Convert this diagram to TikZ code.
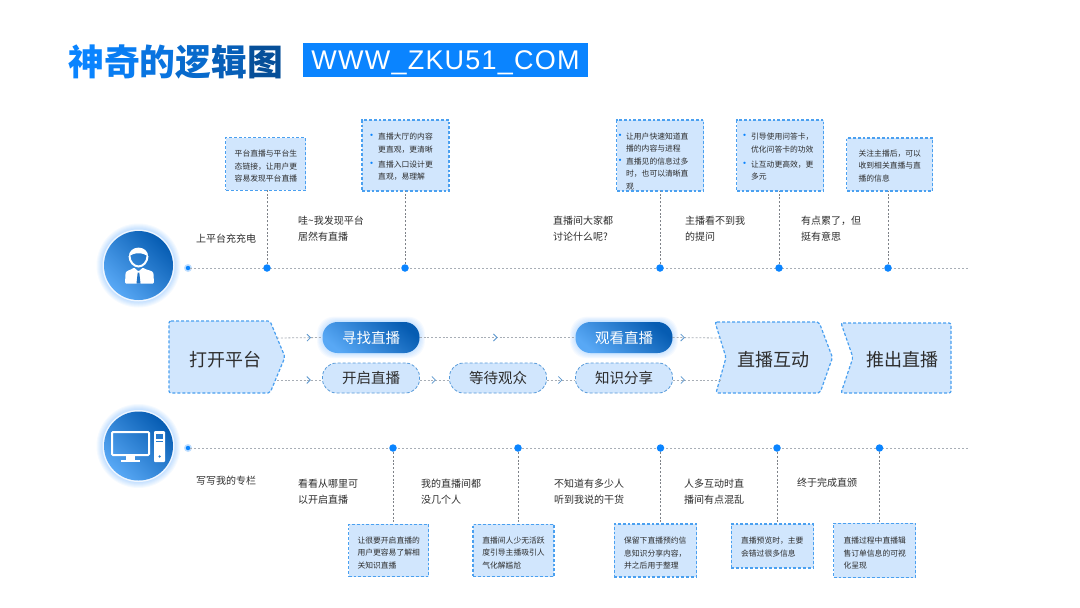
\documentclass[tikz,border=0pt]{standalone}
\usepackage{fontspec}
\setmainfont{Noto Sans CJK SC}
\newfontfamily\urlfont[LetterSpace=4.5]{Liberation Sans}
\usetikzlibrary{arrows.meta,decorations.markings}
\definecolor{tipfill}{RGB}{209,230,253}
\definecolor{tipedge}{RGB}{74,160,240}
\definecolor{keyblue}{RGB}{10,132,255}
\definecolor{ballhi}{RGB}{88,168,245}
\definecolor{balllo}{RGB}{6,92,178}
\definecolor{linegray}{RGB}{168,174,182}
\definecolor{txtgray}{RGB}{45,45,45}
\newcommand{\smallfont}{\fontsize{7.8}{12.5}\selectfont}
\newcommand{\tipmark}{\textcolor{keyblue}{\fontsize{11}{11}\selectfont •}}
\newcommand{\tipdot}{\makebox[8pt][l]{\hspace{-4pt}\tipmark}}
\newcommand{\tipdotnear}{\makebox[6pt][l]{\hspace{-5.5pt}\tipmark}}
\newcommand{\tipgap}{\hspace*{8pt}}
\newcommand{\tipdrop}[1]{\rule{0pt}{#1pt}}
\begin{document}
\begin{tikzpicture}[x=1pt, y=-1pt,
				tipbox/.style={draw=tipedge, fill=tipfill, dash pattern=on 2.8pt off 2pt, line width=1.1pt, anchor=center, inner sep=0pt, align=left, text=txtgray, font=\smallfont},
				saytext/.style={anchor=west, inner sep=0pt, align=left, text=txtgray, font=\fontsize{10}{16}\selectfont},
				stagefill/.style={draw=tipedge, fill=tipfill, dash pattern=on 3pt off 2pt, line width=1.2pt, rounded corners=2pt},
				pillbox/.style={draw=tipedge!80!gray, fill=tipfill, densely dashed, line width=.8pt, rounded corners=14pt, minimum width=97pt, minimum height=30pt, inner sep=0pt, text=txtgray, font=\fontsize{14.5}{16}\selectfont},
				pillhot/.style={rounded corners=15pt, minimum width=97pt, minimum height=31pt, inner sep=0pt, text=white, left color=ballhi, right color=balllo, shading angle=140, font=\fontsize{14.5}{16}\selectfont},
				stagetext/.style={text=txtgray, font=\fontsize{18}{20}\selectfont},
				dotbig/.style={circle, fill=keyblue, minimum size=7.5pt, inner sep=0pt},
				dotend/.style={circle, fill=keyblue, minimum size=4.5pt, inner sep=0pt},
				timeline/.style={draw=linegray, dash pattern=on 2pt off 2pt, line width=.9pt},
				riser/.style={draw=linegray!75!black, dash pattern=on 2pt off 1.8pt, line width=.7pt},
				flowline/.style={draw=linegray, dash pattern=on 2pt off 1.8pt, line width=.8pt, postaction={decorate}, decoration={markings, mark=at position #1 with {\arrow[solid, draw=tipedge!70!gray]{Straight Barb[length=3.5pt,width=7pt]}}}},
				iconwhite/.style={fill=white, draw=none}]
	\useasboundingbox (0,0) rectangle (1080,608);
	\fill[white] (0,0) rectangle (1080,608);
	% title
	\node[anchor=west, inner sep=0pt, font=\fontsize{35.8}{36}\selectfont\bfseries] (pagetitle) at (68,62) {\textcolor{keyblue}{神}\textcolor{keyblue!95!black}{奇}\textcolor{keyblue!88!black}{的}\textcolor{keyblue!80!black}{逻}\textcolor{keyblue!72!black}{辑}\textcolor{keyblue!60!black}{图}};
	\node[fill=keyblue, text=white, minimum width=285pt, minimum height=34pt, inner sep=0pt, text height=19.3pt, text depth=0pt, font=\fontsize{27}{28}\urlfont] (urlbox) at (445.5,60) {WWW\_ZKU51\_COM};
	% round badges
	\foreach \bx/\by in {138.5/265.5, 138.5/446} {
		\foreach \g in {1,...,7} \fill[keyblue, opacity=.04] (\bx,\by) circle ({35+\g*1});
		\fill[white, opacity=.75] (\bx,\by) circle (36);
		\shade[left color=ballhi, right color=balllo, shading angle=135] (\bx,\by) circle (34.5);
	}
	% person icon
	\draw[white, line width=2pt] (129.5,256) .. controls (129.5,262) and (134,266.5) .. (138.5,266.5) .. controls (143,266.5) and (147.5,262) .. (147.5,256);
	\fill[iconwhite] (128.8,257) .. controls (128.5,244.5) and (148.5,244.5) .. (148.2,257) .. controls (144,252) and (133,252) .. (128.8,257);
	\fill[iconwhite, rounded corners=1pt] (125,283.5) -- (125.5,274) .. controls (126,270.5) and (131,270) .. (134,267.5) -- (138.5,271.5) -- (143,267.5) .. controls (146,270) and (153,270.5) .. (153.5,274) -- (154,283.5) -- cycle;
	\fill[balllo!70!ballhi] (137.7,272.5) -- (139.3,272.5) -- (140.5,283.5) -- (136.5,283.5) -- cycle;
	% computer icon
	\draw[white, line width=2pt, rounded corners=1pt] (112,432) rectangle (149,455);
	\fill[iconwhite] (126,456) rectangle (135,460);
	\fill[iconwhite] (120.7,460) rectangle (139.7,462);
	\fill[iconwhite, rounded corners=1pt] (154,431) rectangle (165,462);
	\fill[balllo!60!ballhi] (155.7,434) rectangle (163.3,439);
	\fill[balllo!60!ballhi] (155.7,441) rectangle (163.3,442.2);
	\fill[balllo!60!ballhi] (159.6,456.5) circle (1.3);
	% timelines
	\node[dotend] (upstart) at (188,268) {};
	\node[dotend] (downstart) at (188,448) {};
	\fill[keyblue, opacity=.25] (upstart) circle (4);
	\fill[keyblue, opacity=.25] (downstart) circle (4);
	\coordinate (upend) at (970,268);
	\coordinate (downend) at (970,448);
	\draw[timeline] (upstart) -- (upend);
	\draw[timeline] (downstart) -- (downend);
	% boxes above the line
	\foreach \n/\cx/\cy/\w/\h/\dx/\txt in {
		ua/265.9/164/80/52.5/267/{\tipdrop{11}平台直播与平台生\\态链接，让用户更\\容易发现平台直播},
		ub/405.5/155.5/87/71/405/{\tipdrop{9}\tipdot 直播大厅的内容\hspace*{8pt}\\\tipgap 更直观，更清晰\\[2.5pt]\tipdot 直播入口设计更\\\tipgap 直观，易理解},
		uc/660.3/155.5/87/71/660/{\tipdrop{18}\tipdotnear 让用户快速知道直\hspace*{12pt}\\\hspace*{6pt}播的内容与进程\\\tipdotnear 直播见的信息过多\\\hspace*{6pt}时，也可以清晰直\\\hspace*{6pt}观},
		ud/780.3/155.5/87/71/779/{\tipdrop{9}\tipdot 引导使用问答卡，\hspace*{4pt}\\\tipgap 优化问答卡的功效\\[2.5pt]\tipdot 让互动更高效，更\\\tipgap 多元},
		ue/889.8/164.5/86/53/888/{\tipdrop{9}关注主播后，可以\\收到相关直播与直\\播的信息}} {
		\node[tipbox, minimum width=\w pt, minimum height=\h pt] (\n) at (\cx,\cy) {\txt};
		\node[dotbig] (\n dot) at (\dx,268) {};
		\coordinate (\n top) at (\dx,\cy+\h/2);
		\draw[riser] (\n dot) -- (\n top);
	}
	% boxes below the line
	\foreach \n/\cx/\cy/\w/\h/\dx/\txt in {
		da/388.7/550.3/80/52.5/393/{\tipdrop{12}让很要开启直播的\\用户更容易了解相\\关知识直播},
		db/513.5/550.3/81/52.5/518/{\tipdrop{12}直播间人少无活跃\\度引导主播吸引人\\气化解尴尬},
		dc/655.3/550.5/82.5/53/660.5/{\tipdrop{12}保留下直播预约信\\息知识分享内容，\\并之后用于整理},
		dd/772.3/546/82.5/44/777/{\tipdrop{9}直播预览时，主要\\会错过很多信息},
		de/874.7/550.3/82/54.5/879.5/{\tipdrop{13}直播过程中直播辑\\售订单信息的可视\\化呈现}} {
		\node[tipbox, minimum width=\w pt, minimum height=\h pt] (\n) at (\cx,\cy) {\txt};
		\node[dotbig] (\n dot) at (\dx,448) {};
		\coordinate (\n top) at (\dx,\cy-\h/2);
		\draw[riser] (\n dot) -- (\n top);
	}
	% spoken lines
	\foreach \n/\sx/\sy/\txt in {
		saya/196/239/{上平台充充电},
		sayb/298/229/{哇\textasciitilde 我发现平台\\居然有直播},
		sayc/553/229/{直播间大家都\\讨论什么呢?},
		sayd/685/229/{主播看不到我\\的提问},
		saye/801/229/{有点累了，但\\挺有意思},
		sayf/196/481/{写写我的专栏},
		sayg/298/491.5/{看看从哪里可\\以开启直播},
		sayh/421/491.5/{我的直播间都\\没几个人},
		sayi/554/491.5/{不知道有多少人\\听到我说的干货},
		sayj/684/491.5/{人多互动时直\\播间有点混乱},
		sayk/797/483/{终于完成直颁}}
		\node[saytext] (\n) at (\sx,\sy) {\txt};
	% middle row
	\foreach \g in {1,...,6} {
		\fill[keyblue, opacity=.035, rounded corners=17pt] ({322.5-\g*.9},{322-\g*.9}) rectangle ({419.5+\g*.9},{353+\g*.9});
		\fill[keyblue, opacity=.035, rounded corners=17pt] ({575.5-\g*.9},{322-\g*.9}) rectangle ({672.5+\g*.9},{353+\g*.9});
	}
	\node[pillhot] (findlive) at (371,337.5) {寻找直播};
	\node[pillhot] (watchlive) at (624,337.5) {观看直播};
	\node[pillbox] (startlive) at (371,378) {开启直播};
	\node[pillbox] (waitaud) at (498,378) {等待观众};
	\node[pillbox] (shareknow) at (624,378) {知识分享};
	\draw[stagefill] (169,321) -- (270,321) -- (285,357) -- (270,393) -- (169,393) -- cycle;
	\draw[stagefill] (715,322) -- (819,322) -- (832.5,357.5) -- (820,393) -- (716,393) -- (726,357.5) -- cycle;
	\draw[stagefill] (841,323) -- (951,323) -- (951,393) -- (841,393) -- (853,357.5) -- cycle;
	\node[stagetext] (openplat) at (225.5,360) {打开平台};
	\node[stagetext] (livetalk) at (773,360) {直播互动};
	\node[stagetext] (quitlive) at (902,360) {推出直播};
	% flow connectors
	\coordinate (openup) at (277,338);
	\coordinate (opendown) at (277,380);
	\coordinate (talkup) at (721,338);
	\coordinate (talkdown) at (721,380);
	\draw[flowline=.75] (openup) -- (findlive.west);
	\draw[flowline=.75] (opendown) -- (startlive.west |- opendown);
	\draw[flowline=.5] (findlive) -- (watchlive);
	\draw[flowline=.55] (startlive.east |- opendown) -- (waitaud.west |- opendown);
	\draw[flowline=.55] (waitaud.east |- opendown) -- (shareknow.west |- opendown);
	\draw[flowline=.25] (watchlive.east) -- (talkup);
	\draw[flowline=.25] (shareknow.east |- opendown) -- (talkdown);
\end{tikzpicture}
\end{document}
